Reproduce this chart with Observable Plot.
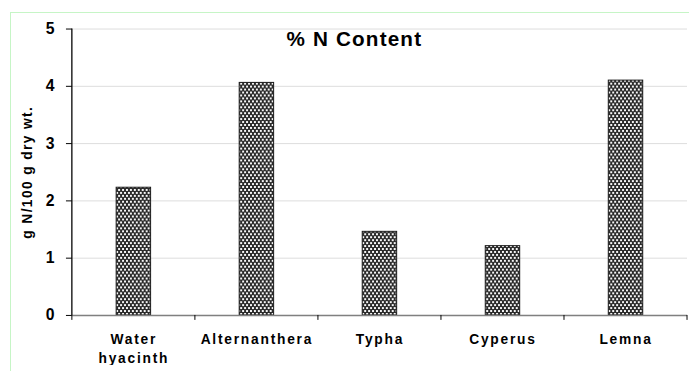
<!DOCTYPE html>
<html>
<head>
<meta charset="utf-8">
<script src="https://cdn.jsdelivr.net/npm/d3@7"></script>
<script src="https://cdn.jsdelivr.net/npm/@observablehq/plot@0.6"></script>
<style>
  html, body { margin: 0; padding: 0; background: #fff; overflow: hidden; width: 689px; height: 371px; }
  #wrap { position: relative; width: 689px; height: 371px; overflow: hidden; }
  #border { position: absolute; left: 10px; top: 12px; width: 700px; height: 400px; border: 1px solid #c6f5c6; box-sizing: border-box; }
  #chart { position: absolute; left: 0; top: 0; }
  svg { font-family: "Liberation Sans", Arial, sans-serif; }
</style>
</head>
<body>
<div id="wrap"><div id="border"></div><div id="chart"></div></div>
<script>
const categories = ["Water hyacinth", "Alternanthera", "Typha", "Cyperus", "Lemna"];
const tickLabels = ["Water\nhyacinth", "Alternanthera", "Typha", "Cyperus", "Lemna"];
const values = [2.23, 4.06, 1.46, 1.21, 4.10];
const yTicks = [0, 1, 2, 3, 4, 5];
const chartTitle = "% N Content";
const yLabel = "g N/100 g dry wt.";

const data = categories.map((c, i) => ({name: c, value: values[i]}));
const labelOf = new Map(categories.map((c, i) => [c, tickLabels[i]]));

const chart = Plot.plot({
  width: 700,
  height: 371,
  marginLeft: 73,
  marginRight: 2,
  marginTop: 29,
  marginBottom: 51,
  style: {fontFamily: "Liberation Sans, Arial, sans-serif", background: "transparent"},
  x: {domain: categories, paddingInner: 0.72, paddingOuter: 0.36, label: null},
  y: {domain: [0, 5], label: null},
  marks: [
    Plot.gridY(yTicks, {stroke: "#dcdcdc", strokeOpacity: 1}),
    Plot.barY(data, {x: "name", y: "value", fill: "url(#dots)", stroke: "#1a1a1a", strokeWidth: 1}),
    Plot.ruleY([0], {stroke: "#808080", strokeWidth: 1.5}),
    Plot.axisY(yTicks, {tickSize: 6, tickPadding: 12, fontSize: 16, fontWeight: "bold", tickFormat: d3.format("d"), stroke: "#000", fill: "#000", label: null, className: "yax"}),
    Plot.axisX({tickSize: 0, tickPadding: 15, fontSize: 14, fontWeight: "bold", tickFormat: d => labelOf.get(d), fill: "#000", label: null, lineHeight: 1.4, className: "xlab"}),
    Plot.text([yLabel], {frameAnchor: "left", textAnchor: "middle", rotate: -90, dx: -46, fontSize: 14, fontWeight: "bold", fill: "#000", className: "ylab"}),
    Plot.text([chartTitle], {frameAnchor: "top", dx: -26, dy: 10, fontSize: 21, fontWeight: "bold", fill: "#000", lineAnchor: "middle", className: "ttl"})
  ]
});

document.getElementById("chart").appendChild(chart);

const svg = d3.select(chart);
// letter spacing like the original rendering
svg.selectAll(".xlab text").style("letter-spacing", "1.8px");
svg.selectAll(".ylab text").style("letter-spacing", "1.4px");
svg.selectAll(".ttl text").style("letter-spacing", "1.2px");
svg.selectAll(".yax text").style("font-size", "16px").style("font-weight", "bold");

// pattern for bars
const defs = svg.insert("defs", ":first-child");
const pat = defs.append("pattern").attr("id", "dots").attr("patternUnits", "userSpaceOnUse")
  .attr("width", 4).attr("height", 6);
pat.append("rect").attr("width", 4).attr("height", 6).attr("fill", "#2b2b2b");
pat.append("rect").attr("x", 0).attr("y", 0).attr("width", 2).attr("height", 2).attr("fill", "#f6f6f6");
pat.append("rect").attr("x", 2).attr("y", 3).attr("width", 2).attr("height", 2).attr("fill", "#f6f6f6");

// axis lines and band-boundary ticks derived from scales
const xs = chart.scale("x");
const ys = chart.scale("y");
const y0 = ys.apply(0), yTop = ys.apply(5);
const step = xs.step, bw = xs.bandwidth;
const bounds = categories.map(c => xs.apply(c) + bw / 2 - step / 2);
bounds.push(xs.apply(categories[categories.length - 1]) + bw / 2 + step / 2);
const g = svg.append("g");
g.selectAll("line.xt").data(bounds).join("line")
  .attr("x1", d => d).attr("x2", d => d).attr("y1", y0).attr("y2", y0 + 5)
  .attr("stroke", "#000").attr("stroke-width", 1);
g.append("line").attr("x1", bounds[0]).attr("x2", bounds[0]).attr("y1", yTop).attr("y2", y0)
  .attr("stroke", "#000").attr("stroke-width", 1.3);
</script>
</body>
</html>
